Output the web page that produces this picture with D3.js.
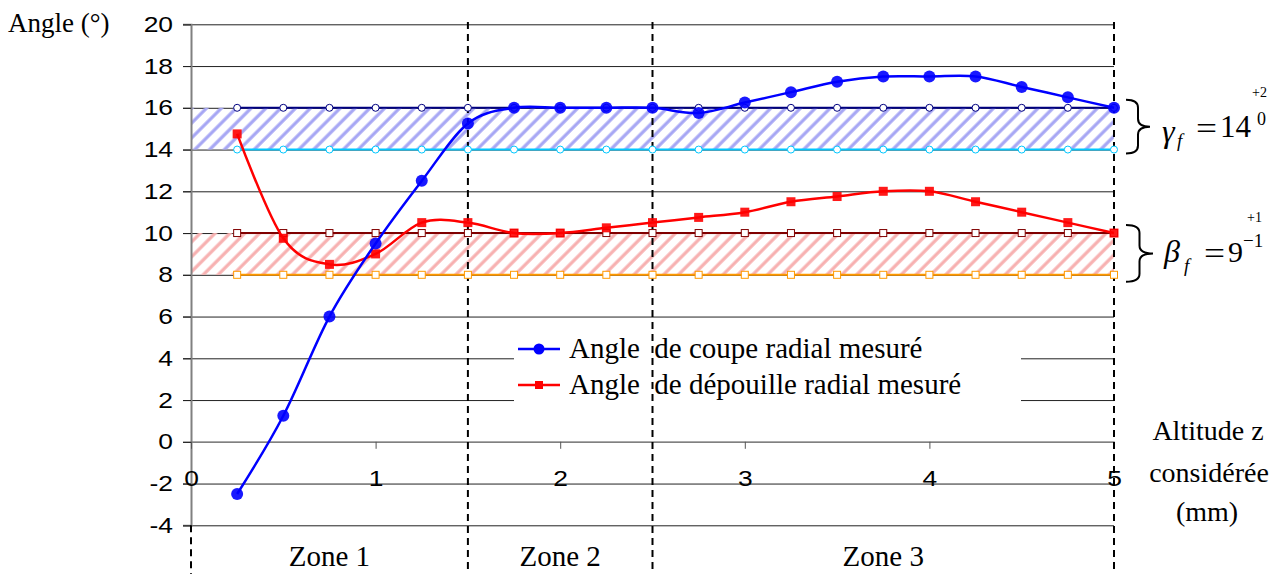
<!DOCTYPE html>
<html>
<head>
<meta charset="utf-8">
<script src="https://cdn.jsdelivr.net/npm/d3@7"></script>
<style>
  body { margin: 0; background: #fff; }
  svg text { fill: #000; }
</style>
</head>
<body>
<svg id="viz" width="1280" height="574"></svg>
<script>
// altitude z (mm) where the angles were measured
const Z_VALUES = [0.25, 0.5, 0.75, 1, 1.25, 1.5, 1.75, 2, 2.25, 2.5, 2.75, 3, 3.25, 3.5, 3.75, 4, 4.25, 4.5, 4.75, 5];
// measured angles (deg)
const COUPE    = [-2.5, 1.25, 6, 9.5, 12.5, 15.25, 16, 16, 16, 16, 15.75, 16.25, 16.75, 17.25, 17.5, 17.5, 17.5, 17, 16.5, 16];
const DEPOUILLE = [14.75, 9.75, 8.5, 9, 10.5, 10.5, 10, 10, 10.25, 10.5, 10.75, 11, 11.5, 11.75, 12, 12, 11.5, 11, 10.5, 10];
// tolerance limits
const GAMMA_LIMITS = [14, 16];
const BETA_LIMITS  = [8, 10];
const Y_TICKS = [-4, -2, 0, 2, 4, 6, 8, 10, 12, 14, 16, 18, 20];
const X_TICKS = [0, 1, 2, 3, 4, 5];
const ZONE_NAMES = ["Zone 1", "Zone 2", "Zone 3"];
const ZONE_BOUNDS = [0, 1.5, 2.5, 5];
const LEGEND_LABELS = ["Angle  de coupe radial mesuré", "Angle  de dépouille radial mesuré"];

const SERIF = "Liberation Serif, Times New Roman, serif";
const SANS = "Liberation Sans, Arial, sans-serif";
const STRETCH = 1.2; // tick digits in the source are rendered wide

const svg = d3.select("#viz");
const x = d3.scaleLinear().domain([0, 5]).range([191, 1114]);
const y = d3.scaleLinear().domain([-4, 20]).range([525.3, 24.3]);
const curve = d3.curveCardinal.tension(0);

// hatch patterns
const defs = svg.append("defs");
function hatch(id, color) {
  defs.append("pattern").attr("id", id)
    .attr("patternUnits", "userSpaceOnUse").attr("width", 10.5).attr("height", 10.5)
    .attr("patternTransform", "rotate(45)")
    .append("line").attr("x1", 2).attr("x2", 2).attr("y1", 0).attr("y2", 10.5)
    .attr("stroke", color).attr("stroke-width", 3.2);
}
hatch("hBlue", "#a6a6f4");
hatch("hRed", "#f7b0b0");

// gridlines
svg.append("g")
  .attr("transform", `translate(${x(5)},0)`)
  .call(d3.axisLeft(y).tickValues(Y_TICKS).tickSize(x(5) - 183).tickFormat(""))
  .call(g => g.select(".domain").remove())
  .call(g => g.selectAll("line").attr("stroke", "#222").attr("stroke-width", 1));

// bands
svg.append("rect").attr("x", x(0)).attr("width", x(5) - x(0))
  .attr("y", y(GAMMA_LIMITS[1])).attr("height", y(GAMMA_LIMITS[0]) - y(GAMMA_LIMITS[1]))
  .attr("fill", "url(#hBlue)");
svg.append("rect").attr("x", x(0)).attr("width", x(5) - x(0))
  .attr("y", y(BETA_LIMITS[1])).attr("height", y(BETA_LIMITS[0]) - y(BETA_LIMITS[1]))
  .attr("fill", "url(#hRed)");

// legend background (hides gridlines)
svg.append("rect").attr("x", 514).attr("y", 328).attr("width", 507).attr("height", 84).attr("fill", "#fff");

// y axis
svg.append("g")
  .attr("transform", `translate(${x(0)},0)`)
  .call(d3.axisLeft(y).tickValues(Y_TICKS).tickSize(8).tickPadding(10).tickFormat(d => String(d)))
  .call(g => g.select(".domain").attr("stroke", "#808080").attr("stroke-width", 2))
  .call(g => g.selectAll("line").attr("stroke", "#222"))
  .call(g => g.selectAll("text").attr("font-size", 22).attr("font-family", SANS)
    .attr("x", -18 / STRETCH).attr("transform", `scale(${STRETCH},1)`));

// x axis at y=0
svg.append("g")
  .attr("transform", `translate(0,${y(0)})`)
  .call(d3.axisBottom(x).tickValues(X_TICKS).tickSize(7).tickPadding(22).tickSizeOuter(0).tickFormat(d => String(d)))
  .call(g => g.select(".domain").attr("stroke", "#808080").attr("stroke-width", 1.5))
  .call(g => g.selectAll("line").attr("stroke", "#555"))
  .call(g => g.selectAll("text").attr("font-size", 22).attr("font-family", SANS)
    .attr("transform", `scale(${STRETCH},1)`));

// zone dashed lines
ZONE_BOUNDS.forEach((b, i) => {
  svg.append("line").attr("x1", x(b)).attr("x2", x(b))
    .attr("y1", i === 0 ? y(-4) : 22).attr("y2", 574)
    .attr("stroke", "#000").attr("stroke-width", 2).attr("stroke-dasharray", "7,5");
});
svg.selectAll("text.zone").data(ZONE_NAMES).join("text")
  .attr("class", "zone")
  .attr("x", (d, i) => (x(ZONE_BOUNDS[i]) + x(ZONE_BOUNDS[i + 1])) / 2)
  .attr("y", 566).attr("text-anchor", "middle")
  .attr("font-size", 29).attr("font-family", SERIF)
  .text(d => d);

// reference lines with open markers
function refLine(val, color, shape) {
  const pts = Z_VALUES.map(z => [z, val]);
  svg.append("path").datum(pts)
    .attr("d", d3.line().x(d => x(d[0])).y(d => y(d[1])))
    .attr("fill", "none").attr("stroke", color).attr("stroke-width", 2);
  const g = svg.append("g");
  if (shape === "circle") {
    g.selectAll("circle").data(pts).join("circle")
      .attr("cx", d => x(d[0])).attr("cy", d => y(d[1])).attr("r", 3.5)
      .attr("fill", "#fff").attr("stroke", color).attr("stroke-width", 1);
  } else {
    g.selectAll("rect").data(pts).join("rect")
      .attr("x", d => x(d[0]) - 3.5).attr("y", d => y(d[1]) - 3.5)
      .attr("width", 7).attr("height", 7)
      .attr("fill", "#fff").attr("stroke", color).attr("stroke-width", 1);
  }
}
refLine(GAMMA_LIMITS[1], "#000080", "circle");
refLine(GAMMA_LIMITS[0], "#00c8ff", "circle");
refLine(BETA_LIMITS[1], "#800000", "square");
refLine(BETA_LIMITS[0], "#ff9900", "square");

// measured series
const line = d3.line().x(d => x(d[0])).y(d => y(d[1])).curve(curve);
const coupePts = Z_VALUES.map((z, i) => [z, COUPE[i]]);
const depPts = Z_VALUES.map((z, i) => [z, DEPOUILLE[i]]);

svg.append("path").datum(depPts).attr("d", line)
  .attr("fill", "none").attr("stroke", "#ff0000").attr("stroke-width", 2.5);
svg.append("g").selectAll("rect").data(depPts).join("rect")
  .attr("x", d => x(d[0]) - 4.5).attr("y", d => y(d[1]) - 4.5)
  .attr("width", 9).attr("height", 9).attr("fill", "#ff0000").attr("fill-opacity", 0.9);

svg.append("path").datum(coupePts).attr("d", line)
  .attr("fill", "none").attr("stroke", "#0000ff").attr("stroke-width", 2.5);
svg.append("g").selectAll("circle").data(coupePts).join("circle")
  .attr("cx", d => x(d[0])).attr("cy", d => y(d[1])).attr("r", 6)
  .attr("fill", "#0000ff").attr("fill-opacity", 0.9);

// legend
const lg = svg.append("g");
LEGEND_LABELS.forEach((lab, i) => {
  const ly = 349 + i * 36;
  const col = i === 0 ? "#0000ff" : "#ff0000";
  lg.append("line").attr("x1", 518).attr("x2", 560).attr("y1", ly).attr("y2", ly)
    .attr("stroke", col).attr("stroke-width", 2.5);
  if (i === 0) lg.append("circle").attr("cx", 539).attr("cy", ly).attr("r", 5.5).attr("fill", col);
  else lg.append("rect").attr("x", 535).attr("y", ly - 4).attr("width", 8).attr("height", 8).attr("fill", col);
  lg.append("text").attr("x", 569).attr("y", ly + 9)
    .attr("font-size", 29).attr("font-family", SERIF)
    .style("white-space", "pre").text(lab);
});

// axis titles
svg.append("text").attr("x", 8).attr("y", 32)
  .attr("font-size", 27).attr("font-family", SERIF).text("Angle (°)");
const at = svg.append("text").attr("font-size", 28).attr("font-family", SERIF).attr("text-anchor", "middle");
at.append("tspan").attr("x", 1208).attr("y", 440).text("Altitude z");
at.append("tspan").attr("x", 1209).attr("y", 482).text("considérée");
at.append("tspan").attr("x", 1207).attr("y", 521).text("(mm)");

// braces + tolerance notation
function brace(x0, y1, y2, w) {
  const m = (y1 + y2) / 2, h = w / 2, r = 8;
  return `M${x0},${y1} Q${x0 + h},${y1} ${x0 + h},${y1 + r} L${x0 + h},${m - r} Q${x0 + h},${m} ${x0 + w},${m}` +
         ` Q${x0 + h},${m} ${x0 + h},${m + r} L${x0 + h},${y2 - r} Q${x0 + h},${y2} ${x0},${y2}`;
}
svg.append("path").attr("d", brace(1126, y(GAMMA_LIMITS[1]) - 8, y(GAMMA_LIMITS[0]) + 4, 24))
  .attr("fill", "none").attr("stroke", "#000").attr("stroke-width", 2);
svg.append("path").attr("d", brace(1126, y(BETA_LIMITS[1]) - 8, y(BETA_LIMITS[0]) + 7, 27))
  .attr("fill", "none").attr("stroke", "#000").attr("stroke-width", 2);

function mt(xp, yp, size, txt, italic, len) {
  const t = svg.append("text").attr("x", xp).attr("y", yp).attr("font-size", size)
    .attr("font-family", SERIF).attr("font-style", italic ? "italic" : "normal").text(txt);
  if (len) t.attr("textLength", len).attr("lengthAdjust", "spacingAndGlyphs");
}
mt(1162, 142, 32, "γ", true);
mt(1177, 147, 19, "f", true);
mt(1196, 139, 32, "=", false, 21);
mt(1220, 137, 31, "14");
mt(1257, 125, 18, "0");
mt(1252, 97, 14, "+2");

mt(1164, 262, 32, "β", true);
mt(1184, 272, 19, "f", true);
mt(1204, 264, 32, "=", false, 21);
mt(1228, 262, 30, "9");
mt(1243, 247, 19, "−1");
mt(1247, 222, 14, "+1");
</script>
</body>
</html>
